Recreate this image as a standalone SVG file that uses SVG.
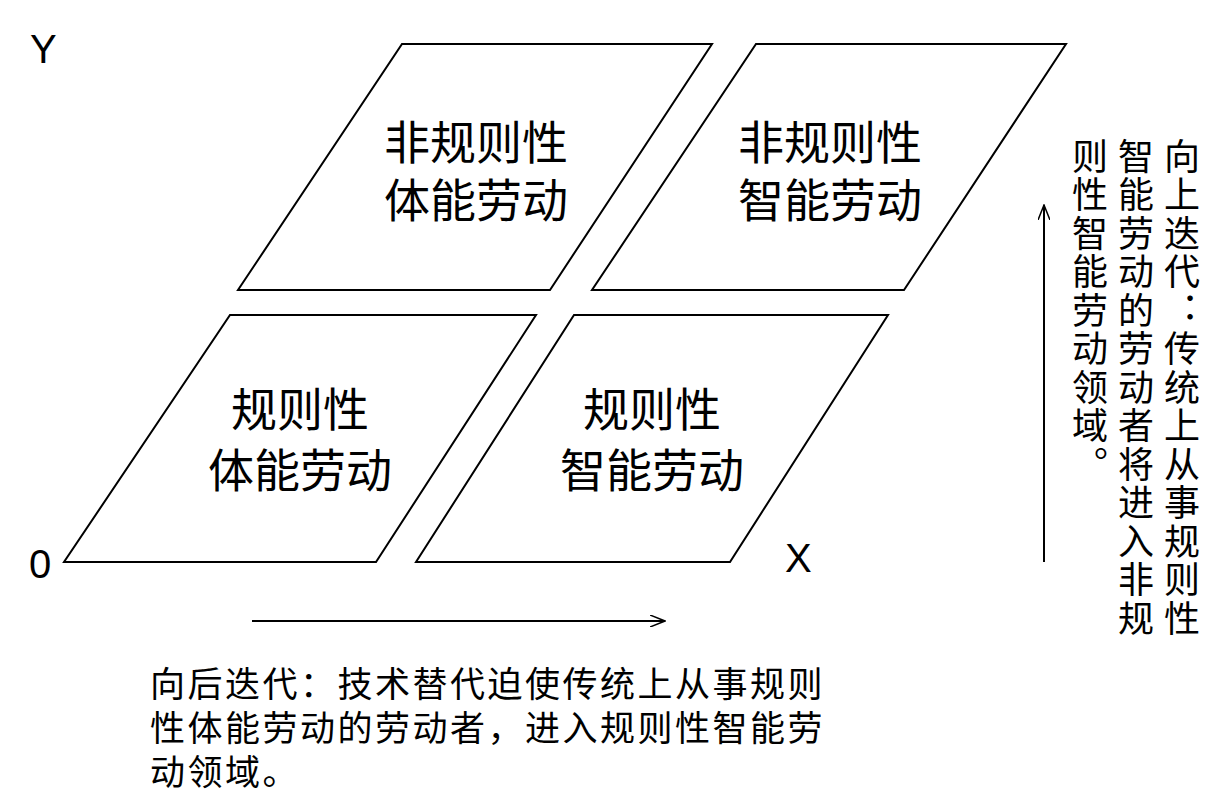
<svg xmlns="http://www.w3.org/2000/svg" width="1220" height="809" viewBox="0 0 1220 809">
<style>
.p{fill:#fff;stroke:#000;stroke-width:2}
.t{font-family:"Noto Sans CJK SC","Liberation Sans",sans-serif;font-size:46px;text-anchor:middle;fill:#000}
.s{font-family:"Noto Sans CJK SC","Liberation Sans",sans-serif;font-size:35px;fill:#000;letter-spacing:2.5px}
.a{font-family:"Liberation Sans",sans-serif;font-size:40px;fill:#000}
.v{font-family:"Noto Sans CJK SC",sans-serif;font-size:36px;fill:#000;writing-mode:vertical-rl;letter-spacing:2.5px}
</style>
<defs><marker id="ar" markerWidth="16" markerHeight="12" refX="15" refY="6" orient="auto" markerUnits="userSpaceOnUse"><path d="M0,0 L15,6 L0,12" fill="none" stroke="#000" stroke-width="1.5"/></marker></defs>
<rect width="1220" height="809" fill="#fff"/>
<g id="n1"><polygon class="p" points="402,44 712,44 550,290 238,290"/><text class="t" x="476" y="159">非规则性</text><text class="t" x="476" y="217">体能劳动</text></g>
<g id="n2"><polygon class="p" points="756,44 1066,44 904,290 592,290"/><text class="t" x="830" y="159">非规则性</text><text class="t" x="830" y="217">智能劳动</text></g>
<g id="n3"><polygon class="p" points="230,315 536,315 376,562 64,562"/><text class="t" x="300" y="426">规则性</text><text class="t" x="300" y="487">体能劳动</text></g>
<g id="n4"><polygon class="p" points="574,315 888,315 730,562 416,562"/><text class="t" x="652" y="426">规则性</text><text class="t" x="652" y="487">智能劳动</text></g>
<g id="connectors" stroke="#000" stroke-width="2" fill="none">
<line x1="252" y1="621" x2="665" y2="621" marker-end="url(#ar)"/>
<line x1="1044" y1="562" x2="1044" y2="205" marker-end="url(#ar)"/>
</g>
<text class="a" x="30" y="63">Y</text>
<text class="a" x="29" y="578">0</text>
<text class="a" x="785" y="572">X</text>
<text class="s" x="150" y="697">向后迭代：技术替代迫使传统上从事规则</text>
<text class="s" x="150" y="741">性体能劳动的劳动者，进入规则性智能劳</text>
<text class="s" x="150" y="785">动领域。</text>
<text class="v" x="1182" y="138">向上迭代：传统上从事规则性</text>
<text class="v" x="1136" y="138">智能劳动的劳动者将进入非规</text>
<text class="v" x="1090" y="138">则性智能劳动领域。</text>
</svg>
